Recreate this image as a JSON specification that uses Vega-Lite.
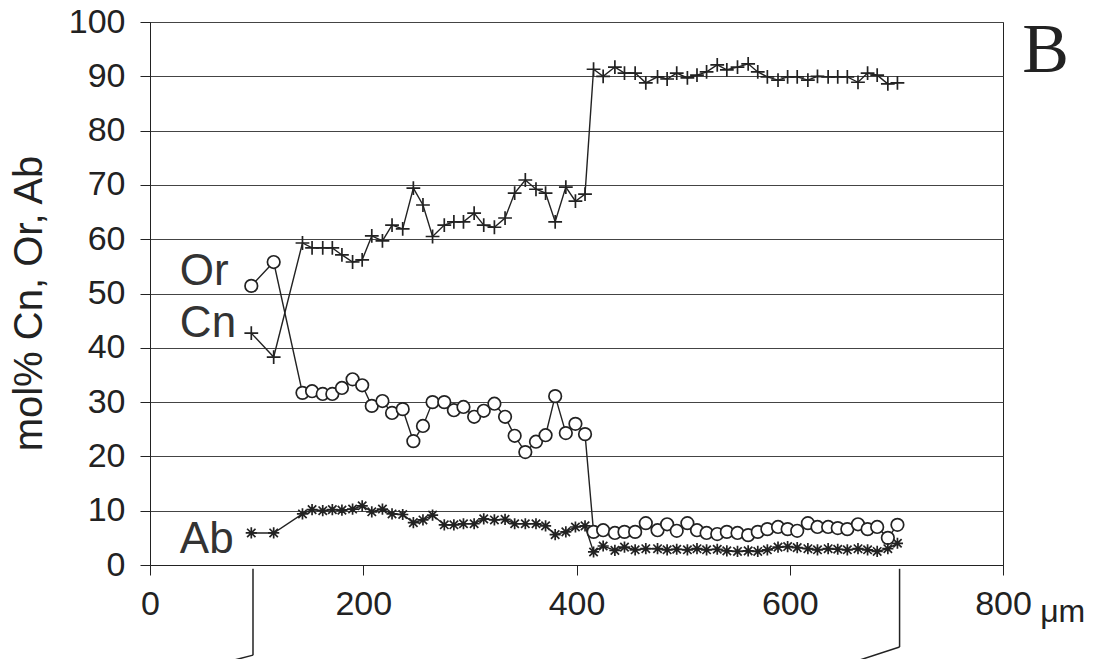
{
  "$schema": "https://vega.github.io/schema/vega-lite/v6.json",
  "autosize": "none",
  "width": 853,
  "height": 543,
  "padding": {"left": 150, "top": 22, "right": 91, "bottom": 94},
  "background": "white",
  "config": {"view": {"stroke": "#222", "strokeWidth": 1}, "font": "Liberation Sans"},
  "datasets": {
    "profile": [
      {"x": 95, "Cn": 42.7, "Or": 51.4, "Ab": 5.9},
      {"x": 116, "Cn": 38.3, "Or": 55.8, "Ab": 5.9},
      {"x": 143, "Cn": 59.3, "Or": 31.7, "Ab": 9.4},
      {"x": 152, "Cn": 58.4, "Or": 32.0, "Ab": 10.2},
      {"x": 162, "Cn": 58.4, "Or": 31.5, "Ab": 10.0},
      {"x": 171, "Cn": 58.4, "Or": 31.5, "Ab": 10.2},
      {"x": 180, "Cn": 57.1, "Or": 32.6, "Ab": 10.1},
      {"x": 190, "Cn": 55.8, "Or": 34.2, "Ab": 10.3},
      {"x": 199, "Cn": 56.2, "Or": 33.1, "Ab": 10.9},
      {"x": 208, "Cn": 60.6, "Or": 29.3, "Ab": 9.8},
      {"x": 218, "Cn": 59.7, "Or": 30.2, "Ab": 10.3},
      {"x": 227, "Cn": 62.6, "Or": 28.0, "Ab": 9.4},
      {"x": 237, "Cn": 61.9, "Or": 28.7, "Ab": 9.3},
      {"x": 247, "Cn": 69.4, "Or": 22.8, "Ab": 7.8},
      {"x": 256, "Cn": 66.3, "Or": 25.6, "Ab": 8.3},
      {"x": 265, "Cn": 60.5, "Or": 30.0, "Ab": 9.2},
      {"x": 276, "Cn": 62.6, "Or": 30.0, "Ab": 7.4},
      {"x": 285, "Cn": 63.2, "Or": 28.5, "Ab": 7.4},
      {"x": 294, "Cn": 63.2, "Or": 29.1, "Ab": 7.6},
      {"x": 304, "Cn": 64.8, "Or": 27.3, "Ab": 7.6},
      {"x": 313, "Cn": 62.6, "Or": 28.4, "Ab": 8.5},
      {"x": 323, "Cn": 62.2, "Or": 29.7, "Ab": 8.3},
      {"x": 333, "Cn": 63.9, "Or": 27.3, "Ab": 8.4},
      {"x": 342, "Cn": 68.5, "Or": 23.8, "Ab": 7.6},
      {"x": 352, "Cn": 70.9, "Or": 20.8, "Ab": 7.6},
      {"x": 362, "Cn": 69.2, "Or": 22.7, "Ab": 7.6},
      {"x": 371, "Cn": 68.5, "Or": 23.9, "Ab": 7.2},
      {"x": 380, "Cn": 63.2, "Or": 31.1, "Ab": 5.6},
      {"x": 390, "Cn": 69.6, "Or": 24.3, "Ab": 6.1},
      {"x": 399, "Cn": 67.0, "Or": 26.0, "Ab": 7.0},
      {"x": 408, "Cn": 68.3, "Or": 24.1, "Ab": 7.2},
      {"x": 416, "Cn": 91.3, "Or": 6.1, "Ab": 2.4},
      {"x": 425, "Cn": 90.0, "Or": 6.4, "Ab": 3.5},
      {"x": 436, "Cn": 91.7, "Or": 5.9, "Ab": 2.7},
      {"x": 445, "Cn": 90.6, "Or": 6.1, "Ab": 3.3},
      {"x": 455, "Cn": 90.6, "Or": 6.1, "Ab": 2.8},
      {"x": 465, "Cn": 88.8, "Or": 7.7, "Ab": 3.0},
      {"x": 476, "Cn": 89.9, "Or": 6.4, "Ab": 3.0},
      {"x": 485, "Cn": 89.5, "Or": 7.5, "Ab": 2.8},
      {"x": 494, "Cn": 90.6, "Or": 6.3, "Ab": 2.9},
      {"x": 504, "Cn": 89.7, "Or": 7.7, "Ab": 2.8},
      {"x": 513, "Cn": 90.2, "Or": 6.4, "Ab": 3.0},
      {"x": 522, "Cn": 90.8, "Or": 5.9, "Ab": 2.8},
      {"x": 532, "Cn": 92.1, "Or": 5.7, "Ab": 2.9},
      {"x": 541, "Cn": 91.2, "Or": 6.1, "Ab": 2.6},
      {"x": 551, "Cn": 91.7, "Or": 5.9, "Ab": 2.5},
      {"x": 561, "Cn": 92.3, "Or": 5.5, "Ab": 2.6},
      {"x": 570, "Cn": 90.8, "Or": 6.1, "Ab": 2.5},
      {"x": 579, "Cn": 89.9, "Or": 6.6, "Ab": 2.8},
      {"x": 589, "Cn": 89.3, "Or": 7.0, "Ab": 3.3},
      {"x": 598, "Cn": 89.9, "Or": 6.6, "Ab": 3.4},
      {"x": 607, "Cn": 89.9, "Or": 6.3, "Ab": 3.2},
      {"x": 617, "Cn": 89.3, "Or": 7.7, "Ab": 3.0},
      {"x": 626, "Cn": 90.0, "Or": 7.0, "Ab": 2.8},
      {"x": 636, "Cn": 89.9, "Or": 7.0, "Ab": 3.0},
      {"x": 645, "Cn": 89.9, "Or": 6.8, "Ab": 2.9},
      {"x": 654, "Cn": 89.9, "Or": 6.6, "Ab": 2.8},
      {"x": 664, "Cn": 88.9, "Or": 7.5, "Ab": 3.0},
      {"x": 673, "Cn": 90.6, "Or": 6.6, "Ab": 2.8},
      {"x": 682, "Cn": 90.2, "Or": 7.0, "Ab": 2.5},
      {"x": 692, "Cn": 88.6, "Or": 5.0, "Ab": 3.0},
      {"x": 701, "Cn": 88.8, "Or": 7.4, "Ab": 4.0}
    ],
    "brackets": [
      {"x": 96.6, "v": -0.7, "x2": 96.6, "v2": -16.6},
      {"x": 96.6, "v": -16.6, "x2": 77, "v2": -17.6},
      {"x": 703, "v": -0.7, "x2": 703, "v2": -15.1},
      {"x": 703, "v": -15.1, "x2": 664, "v2": -17.6}
    ],
    "labels": [
      {"x": 28, "v": 51.6, "label": "Or"},
      {"x": 28, "v": 42.0, "label": "Cn"},
      {"x": 28, "v": 2.2, "label": "Ab"}
    ],
    "panel": [
      {"x": 840, "v": 90.8, "label": "B"}
    ],
    "unit": [
      {"x": 856, "v": -10.5, "label": "μm"}
    ]
  },
  "encoding": {
    "x": {
      "field": "x",
      "type": "quantitative",
      "scale": {"domain": [0, 800], "nice": false, "zero": false},
      "axis": {
        "title": null,
        "values": [0, 200, 400, 600, 800],
        "grid": false,
        "domainColor": "#222",
        "tickColor": "#222",
        "tickSize": 10,
        "labelFontSize": 34,
        "labelColor": "#222",
        "labelPadding": 12,
        "labelFlush": false,
        "labelOverlap": false
      }
    },
    "y": {
      "field": "v",
      "type": "quantitative",
      "scale": {"domain": [0, 100], "nice": false, "zero": false},
      "axis": {
        "title": "mol% Cn, Or, Ab",
        "titleFontSize": 40,
        "titleFontWeight": "normal",
        "titleColor": "#222",
        "titlePadding": 19,
        "titleY": 281,
        "values": [0, 10, 20, 30, 40, 50, 60, 70, 80, 90, 100],
        "grid": true,
        "gridColor": "#444",
        "gridWidth": 1,
        "domainColor": "#222",
        "tickColor": "#222",
        "tickSize": 10,
        "labelFontSize": 34,
        "labelColor": "#222",
        "labelPadding": 15,
        "labelFlush": false
      }
    }
  },
  "layer": [
    {
      "data": {"name": "brackets"},
      "mark": {"type": "rule", "color": "#222", "strokeWidth": 1.5},
      "encoding": {
        "x2": {"field": "x2"},
        "y2": {"field": "v2"}
      }
    },
    {
      "data": {"name": "profile"},
      "transform": [{"fold": ["Cn", "Or", "Ab"], "as": ["s", "v"]}],
      "mark": {"type": "line", "color": "#222", "strokeWidth": 1.4},
      "encoding": {
        "detail": {"field": "s"},
        "order": {"field": "x", "type": "quantitative"}
      }
    },
    {
      "data": {"name": "profile"},
      "transform": [{"fold": ["Cn", "Or", "Ab"], "as": ["s", "v"]}],
      "mark": {"type": "point", "filled": true, "fill": "white", "stroke": "#222", "strokeWidth": 1.7, "opacity": 1},
      "encoding": {
        "shape": {
          "field": "s",
          "type": "nominal",
          "scale": {
            "domain": ["Cn", "Or", "Ab"],
            "range": ["M-1,0H1M0,-1V1", "circle", "M-0.75,-0.75L0.75,0.75M-0.75,0.75L0.75,-0.75M0,-1V1M-1,0H1"]
          },
          "legend": null
        },
        "size": {
          "field": "s",
          "type": "nominal",
          "scale": {"domain": ["Cn", "Or", "Ab"], "range": [190, 125, 210]},
          "legend": null
        }
      }
    },
    {
      "data": {"name": "labels"},
      "mark": {"type": "text", "align": "left", "baseline": "alphabetic", "fontSize": 44, "color": "#333", "font": "Liberation Sans"},
      "encoding": {"text": {"field": "label"}}
    },
    {
      "data": {"name": "panel"},
      "mark": {"type": "text", "align": "center", "baseline": "alphabetic", "fontSize": 70, "color": "#222", "font": "Liberation Serif"},
      "encoding": {"text": {"field": "label"}}
    },
    {
      "data": {"name": "unit"},
      "mark": {"type": "text", "align": "center", "baseline": "alphabetic", "fontSize": 32, "color": "#222", "font": "Liberation Sans"},
      "encoding": {"text": {"field": "label"}}
    }
  ]
}
